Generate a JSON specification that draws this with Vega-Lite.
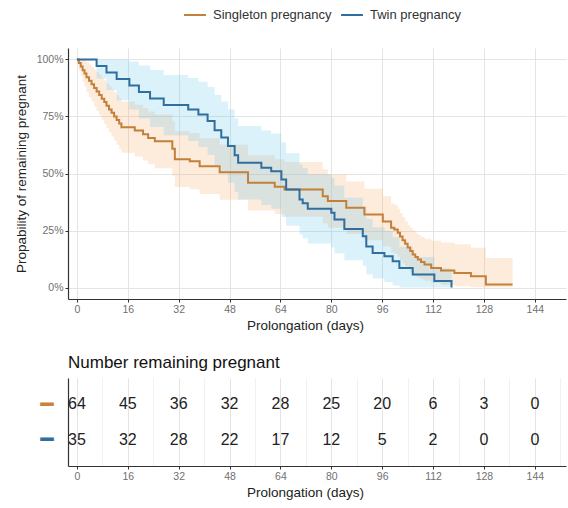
{
  "$schema": "https://vega.github.io/schema/vega-lite/v6.json",
  "padding": {"left": 14, "right": 2, "top": 3, "bottom": 7},
  "background": "white",
  "config": {
    "font": "Liberation Sans",
    "view": {"stroke": null},
    "concat": {"spacing": 22},
    "axis": {
      "domainColor": "#333333", "domainWidth": 1.2, "tickColor": "#333333", "tickSize": 3,
      "labelColor": "#707070", "labelFontSize": 10.5, "labelFont": "Liberation Sans",
      "titleFontSize": 13.5, "titleFontWeight": "normal", "titleColor": "#222222", "titleFont": "Liberation Sans",
      "labelOverlap": false, "labelFlush": false
    }
  },
  "datasets": {
    "km": [
      {"g": "Singleton pregnancy", "day": 0, "s": 1, "lo": 1, "hi": 1},
      {"g": "Singleton pregnancy", "day": 0.6, "s": 0.984, "lo": 0.953, "hi": 1},
      {"g": "Singleton pregnancy", "day": 1.2, "s": 0.969, "lo": 0.926, "hi": 1},
      {"g": "Singleton pregnancy", "day": 1.8, "s": 0.953, "lo": 0.901, "hi": 1},
      {"g": "Singleton pregnancy", "day": 2.4, "s": 0.938, "lo": 0.879, "hi": 0.997},
      {"g": "Singleton pregnancy", "day": 3.0, "s": 0.922, "lo": 0.856, "hi": 0.988},
      {"g": "Singleton pregnancy", "day": 3.8, "s": 0.906, "lo": 0.834, "hi": 0.977},
      {"g": "Singleton pregnancy", "day": 4.6, "s": 0.891, "lo": 0.815, "hi": 0.967},
      {"g": "Singleton pregnancy", "day": 5.4, "s": 0.875, "lo": 0.794, "hi": 0.956},
      {"g": "Singleton pregnancy", "day": 6.2, "s": 0.859, "lo": 0.774, "hi": 0.944},
      {"g": "Singleton pregnancy", "day": 7.0, "s": 0.844, "lo": 0.755, "hi": 0.933},
      {"g": "Singleton pregnancy", "day": 7.8, "s": 0.828, "lo": 0.736, "hi": 0.920},
      {"g": "Singleton pregnancy", "day": 8.6, "s": 0.813, "lo": 0.717, "hi": 0.909},
      {"g": "Singleton pregnancy", "day": 9.3, "s": 0.797, "lo": 0.698, "hi": 0.896},
      {"g": "Singleton pregnancy", "day": 10.1, "s": 0.781, "lo": 0.680, "hi": 0.882},
      {"g": "Singleton pregnancy", "day": 10.9, "s": 0.766, "lo": 0.662, "hi": 0.870},
      {"g": "Singleton pregnancy", "day": 11.7, "s": 0.750, "lo": 0.644, "hi": 0.856},
      {"g": "Singleton pregnancy", "day": 12.5, "s": 0.734, "lo": 0.626, "hi": 0.842},
      {"g": "Singleton pregnancy", "day": 13.3, "s": 0.719, "lo": 0.609, "hi": 0.829},
      {"g": "Singleton pregnancy", "day": 14.0, "s": 0.703, "lo": 0.591, "hi": 0.815},
      {"g": "Singleton pregnancy", "day": 18.2, "s": 0.688, "lo": 0.574, "hi": 0.801},
      {"g": "Singleton pregnancy", "day": 20.8, "s": 0.672, "lo": 0.557, "hi": 0.787},
      {"g": "Singleton pregnancy", "day": 22.4, "s": 0.656, "lo": 0.540, "hi": 0.772},
      {"g": "Singleton pregnancy", "day": 24.5, "s": 0.641, "lo": 0.523, "hi": 0.759},
      {"g": "Singleton pregnancy", "day": 30.0, "s": 0.609, "lo": 0.490, "hi": 0.729},
      {"g": "Singleton pregnancy", "day": 30.8, "s": 0.563, "lo": 0.441, "hi": 0.685},
      {"g": "Singleton pregnancy", "day": 35.5, "s": 0.554, "lo": 0.431, "hi": 0.677},
      {"g": "Singleton pregnancy", "day": 38.6, "s": 0.532, "lo": 0.410, "hi": 0.654},
      {"g": "Singleton pregnancy", "day": 44.9, "s": 0.506, "lo": 0.385, "hi": 0.627},
      {"g": "Singleton pregnancy", "day": 53.8, "s": 0.459, "lo": 0.338, "hi": 0.580},
      {"g": "Singleton pregnancy", "day": 62.2, "s": 0.442, "lo": 0.322, "hi": 0.562},
      {"g": "Singleton pregnancy", "day": 65.3, "s": 0.430, "lo": 0.310, "hi": 0.550},
      {"g": "Singleton pregnancy", "day": 77.3, "s": 0.400, "lo": 0.281, "hi": 0.519},
      {"g": "Singleton pregnancy", "day": 78.9, "s": 0.379, "lo": 0.262, "hi": 0.496},
      {"g": "Singleton pregnancy", "day": 84.7, "s": 0.350, "lo": 0.235, "hi": 0.465},
      {"g": "Singleton pregnancy", "day": 90.4, "s": 0.320, "lo": 0.207, "hi": 0.433},
      {"g": "Singleton pregnancy", "day": 96.2, "s": 0.290, "lo": 0.180, "hi": 0.400},
      {"g": "Singleton pregnancy", "day": 98.8, "s": 0.262, "lo": 0.155, "hi": 0.369},
      {"g": "Singleton pregnancy", "day": 99.8, "s": 0.255, "lo": 0.147, "hi": 0.363},
      {"g": "Singleton pregnancy", "day": 100.9, "s": 0.240, "lo": 0.134, "hi": 0.346},
      {"g": "Singleton pregnancy", "day": 101.6, "s": 0.224, "lo": 0.121, "hi": 0.327},
      {"g": "Singleton pregnancy", "day": 102.4, "s": 0.208, "lo": 0.107, "hi": 0.309},
      {"g": "Singleton pregnancy", "day": 103.2, "s": 0.192, "lo": 0.094, "hi": 0.290},
      {"g": "Singleton pregnancy", "day": 104.0, "s": 0.176, "lo": 0.082, "hi": 0.274},
      {"g": "Singleton pregnancy", "day": 104.8, "s": 0.160, "lo": 0.069, "hi": 0.262},
      {"g": "Singleton pregnancy", "day": 105.6, "s": 0.145, "lo": 0.057, "hi": 0.250},
      {"g": "Singleton pregnancy", "day": 106.4, "s": 0.134, "lo": 0.050, "hi": 0.240},
      {"g": "Singleton pregnancy", "day": 107.2, "s": 0.123, "lo": 0.043, "hi": 0.230},
      {"g": "Singleton pregnancy", "day": 108.2, "s": 0.112, "lo": 0.037, "hi": 0.222},
      {"g": "Singleton pregnancy", "day": 109.3, "s": 0.101, "lo": 0.030, "hi": 0.214},
      {"g": "Singleton pregnancy", "day": 111.4, "s": 0.086, "lo": 0.020, "hi": 0.205},
      {"g": "Singleton pregnancy", "day": 114.5, "s": 0.075, "lo": 0.012, "hi": 0.198},
      {"g": "Singleton pregnancy", "day": 118.7, "s": 0.064, "lo": 0.006, "hi": 0.190},
      {"g": "Singleton pregnancy", "day": 123.9, "s": 0.050, "lo": 0.002, "hi": 0.175},
      {"g": "Singleton pregnancy", "day": 128.6, "s": 0.014, "lo": 0, "hi": 0.130},
      {"g": "Singleton pregnancy", "day": 137.0, "s": 0.014, "lo": 0, "hi": 0.130},
      {"g": "Twin pregnancy", "day": 0, "s": 1, "lo": 1, "hi": 1},
      {"g": "Twin pregnancy", "day": 6.2, "s": 0.971, "lo": 0.916, "hi": 1},
      {"g": "Twin pregnancy", "day": 9.3, "s": 0.943, "lo": 0.866, "hi": 1},
      {"g": "Twin pregnancy", "day": 12.5, "s": 0.914, "lo": 0.821, "hi": 1},
      {"g": "Twin pregnancy", "day": 16.5, "s": 0.886, "lo": 0.781, "hi": 0.991},
      {"g": "Twin pregnancy", "day": 19.5, "s": 0.857, "lo": 0.741, "hi": 0.973},
      {"g": "Twin pregnancy", "day": 23.0, "s": 0.829, "lo": 0.704, "hi": 0.954},
      {"g": "Twin pregnancy", "day": 27.3, "s": 0.800, "lo": 0.668, "hi": 0.932},
      {"g": "Twin pregnancy", "day": 35.0, "s": 0.780, "lo": 0.642, "hi": 0.918},
      {"g": "Twin pregnancy", "day": 38.2, "s": 0.759, "lo": 0.616, "hi": 0.902},
      {"g": "Twin pregnancy", "day": 41.1, "s": 0.730, "lo": 0.581, "hi": 0.879},
      {"g": "Twin pregnancy", "day": 43.3, "s": 0.690, "lo": 0.536, "hi": 0.844},
      {"g": "Twin pregnancy", "day": 45.4, "s": 0.658, "lo": 0.501, "hi": 0.815},
      {"g": "Twin pregnancy", "day": 47.5, "s": 0.620, "lo": 0.460, "hi": 0.780},
      {"g": "Twin pregnancy", "day": 49.6, "s": 0.580, "lo": 0.419, "hi": 0.741},
      {"g": "Twin pregnancy", "day": 50.7, "s": 0.547, "lo": 0.386, "hi": 0.708},
      {"g": "Twin pregnancy", "day": 58.0, "s": 0.525, "lo": 0.362, "hi": 0.688},
      {"g": "Twin pregnancy", "day": 61.1, "s": 0.510, "lo": 0.345, "hi": 0.675},
      {"g": "Twin pregnancy", "day": 64.3, "s": 0.474, "lo": 0.311, "hi": 0.637},
      {"g": "Twin pregnancy", "day": 65.8, "s": 0.430, "lo": 0.271, "hi": 0.589},
      {"g": "Twin pregnancy", "day": 70.0, "s": 0.386, "lo": 0.233, "hi": 0.539},
      {"g": "Twin pregnancy", "day": 71.0, "s": 0.370, "lo": 0.216, "hi": 0.524},
      {"g": "Twin pregnancy", "day": 72.6, "s": 0.345, "lo": 0.193, "hi": 0.497},
      {"g": "Twin pregnancy", "day": 80.0, "s": 0.328, "lo": 0.176, "hi": 0.480},
      {"g": "Twin pregnancy", "day": 81.0, "s": 0.298, "lo": 0.151, "hi": 0.446},
      {"g": "Twin pregnancy", "day": 84.1, "s": 0.257, "lo": 0.120, "hi": 0.394},
      {"g": "Twin pregnancy", "day": 89.9, "s": 0.225, "lo": 0.096, "hi": 0.354},
      {"g": "Twin pregnancy", "day": 91.0, "s": 0.180, "lo": 0.059, "hi": 0.301},
      {"g": "Twin pregnancy", "day": 93.0, "s": 0.152, "lo": 0.040, "hi": 0.264},
      {"g": "Twin pregnancy", "day": 96.7, "s": 0.137, "lo": 0.025, "hi": 0.249},
      {"g": "Twin pregnancy", "day": 99.3, "s": 0.115, "lo": 0.009, "hi": 0.221},
      {"g": "Twin pregnancy", "day": 101.4, "s": 0.086, "lo": 0, "hi": 0.179},
      {"g": "Twin pregnancy", "day": 105.6, "s": 0.057, "lo": 0, "hi": 0.134},
      {"g": "Twin pregnancy", "day": 112.4, "s": 0.029, "lo": 0, "hi": 0.085},
      {"g": "Twin pregnancy", "day": 117.8, "s": 0, "lo": 0, "hi": 0}
    ],
    "risk": [
      {"g": "Singleton pregnancy", "day": 0, "n": 64},
      {"g": "Singleton pregnancy", "day": 16, "n": 45},
      {"g": "Singleton pregnancy", "day": 32, "n": 36},
      {"g": "Singleton pregnancy", "day": 48, "n": 32},
      {"g": "Singleton pregnancy", "day": 64, "n": 28},
      {"g": "Singleton pregnancy", "day": 80, "n": 25},
      {"g": "Singleton pregnancy", "day": 96, "n": 20},
      {"g": "Singleton pregnancy", "day": 112, "n": 6},
      {"g": "Singleton pregnancy", "day": 128, "n": 3},
      {"g": "Singleton pregnancy", "day": 144, "n": 0},
      {"g": "Twin pregnancy", "day": 0, "n": 35},
      {"g": "Twin pregnancy", "day": 16, "n": 32},
      {"g": "Twin pregnancy", "day": 32, "n": 28},
      {"g": "Twin pregnancy", "day": 48, "n": 22},
      {"g": "Twin pregnancy", "day": 64, "n": 17},
      {"g": "Twin pregnancy", "day": 80, "n": 12},
      {"g": "Twin pregnancy", "day": 96, "n": 5},
      {"g": "Twin pregnancy", "day": 112, "n": 2},
      {"g": "Twin pregnancy", "day": 128, "n": 0},
      {"g": "Twin pregnancy", "day": 144, "n": 0}
    ]
  },
  "resolve": {"legend": {"color": "independent"}},
  "vconcat": [
    {
      "width": 498,
      "height": 251,
      "layer": [
        {
          "data": {"name": "km"},
          "mark": {"type": "area", "interpolate": "step-after", "opacity": 0.22},
          "encoding": {
            "x": {
              "field": "day", "type": "quantitative",
              "scale": {"domain": [-2.8, 153.8], "nice": false, "zero": false},
              "axis": {
                "title": "Prolongation (days)", "titleX": 237, "titlePadding": 4,
                "values": [0, 8, 16, 24, 32, 40, 48, 56, 64, 72, 80, 88, 96, 104, 112, 120, 128, 136, 144, 152],
                "labelExpr": "datum.value % 16 == 0 ? datum.label : ''",
                "tickOpacity": {"condition": {"test": "datum.value % 16 == 0", "value": 1}, "value": 0},
                "grid": true,
                "gridColor": {"condition": {"test": "datum.value % 16 == 0", "value": "#e4e4e4"}, "value": "#f1f1f1"}
              }
            },
            "y": {
              "field": "lo", "type": "quantitative",
              "scale": {"domain": [-0.05, 1.05], "nice": false, "zero": false},
              "axis": {
                "title": "Propability of remaining pregnant", "titlePadding": 8,
                "values": [0, 0.125, 0.25, 0.375, 0.5, 0.625, 0.75, 0.875, 1],
                "format": ".0%",
                "labelExpr": "round(datum.value * 1000) % 250 == 0 ? datum.label : ''",
                "tickOpacity": {"condition": {"test": "round(datum.value * 1000) % 250 == 0", "value": 1}, "value": 0},
                "grid": true,
                "gridColor": {"condition": {"test": "round(datum.value * 1000) % 250 == 0", "value": "#e4e4e4"}, "value": "#f1f1f1"}
              }
            },
            "y2": {"field": "hi"},
            "fill": {
              "field": "g", "type": "nominal",
              "scale": {"domain": ["Singleton pregnancy", "Twin pregnancy"], "range": ["#f5a65b", "#5cc3ee"]},
              "legend": null
            }
          }
        },
        {
          "data": {"name": "km"},
          "mark": {"type": "line", "interpolate": "step-after", "strokeWidth": 2},
          "encoding": {
            "x": {"field": "day", "type": "quantitative"},
            "y": {"field": "s", "type": "quantitative"},
            "color": {
              "field": "g", "type": "nominal",
              "scale": {"domain": ["Singleton pregnancy", "Twin pregnancy"], "range": ["#c2803a", "#2f6e9e"]},
              "legend": {
                "title": null, "orient": "none", "legendX": 115, "legendY": -45,
                "direction": "horizontal", "labelFontSize": 13, "labelColor": "#333333",
                "symbolType": "stroke", "symbolStrokeWidth": 2, "symbolSize": 480,
                "columnPadding": 5, "labelOffset": 6
              }
            }
          }
        },
        {
          "mark": {"type": "text", "align": "left", "baseline": "middle", "fontSize": 19, "color": "#111111"},
          "encoding": {
            "x": {"datum": 0.5},
            "y": {"datum": -0.015},
            "text": {"value": "p = 0,47"}
          }
        }
      ]
    },
    {
      "width": 498,
      "height": 88,
      "title": {"text": "Number remaining pregnant", "anchor": "start", "frame": "group", "fontSize": 17, "fontWeight": "normal", "color": "#111111", "offset": 6, "font": "Liberation Sans"},
      "data": {"name": "risk"},
      "mark": {"type": "text", "fontSize": 16, "color": "#222222"},
      "encoding": {
        "x": {
          "field": "day", "type": "quantitative",
          "scale": {"domain": [-2.8, 153.8], "nice": false, "zero": false},
          "axis": {
            "title": "Prolongation (days)", "titleX": 237, "titlePadding": 4,
            "values": [0, 8, 16, 24, 32, 40, 48, 56, 64, 72, 80, 88, 96, 104, 112, 120, 128, 136, 144, 152],
            "labelExpr": "datum.value % 16 == 0 ? datum.label : ''",
            "tickOpacity": {"condition": {"test": "datum.value % 16 == 0", "value": 1}, "value": 0},
            "grid": true,
            "gridColor": {"condition": {"test": "datum.value % 16 == 0", "value": "#e4e4e4"}, "value": "#f1f1f1"}
          }
        },
        "y": {
          "field": "g", "type": "nominal",
          "scale": {"type": "point", "padding": 0.75, "domain": ["Singleton pregnancy", "Twin pregnancy"]},
          "axis": {
            "title": null, "ticks": false, "grid": false, "labelPadding": 15,
            "labelExpr": "'━'", "labelFont": "DejaVu Sans", "labelFontSize": 22,
            "labelColor": {"condition": {"test": "datum.value == 'Singleton pregnancy'", "value": "#c8843e"}, "value": "#2f6e9e"}
          }
        },
        "text": {"field": "n", "type": "quantitative"}
      }
    }
  ]
}
